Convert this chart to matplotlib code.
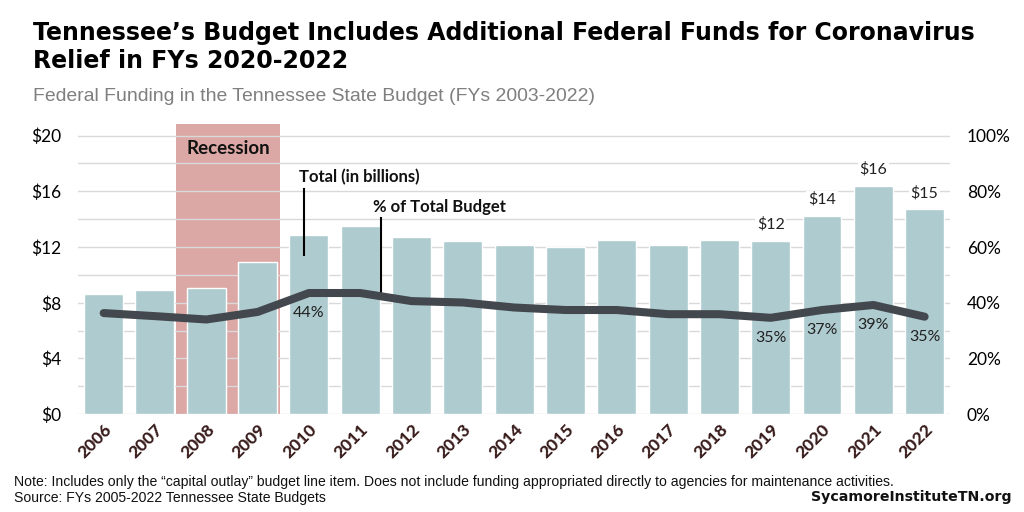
import matplotlib
matplotlib.use("Agg")
import matplotlib.pyplot as plt
from matplotlib.ticker import FixedLocator

# ---- data ----
years = ["2006", "2007", "2008", "2009", "2010", "2011", "2012", "2013", "2014",
         "2015", "2016", "2017", "2018", "2019", "2020", "2021", "2022"]
federal_billions = [8.64, 8.93, 9.07, 10.94, 12.87, 13.52, 12.73, 12.44, 12.15,
                    12.0, 12.5, 12.16, 12.5, 12.45, 14.2, 16.4, 14.7]
pct_of_budget = [36.3, 35.2, 34.0, 36.7, 43.5, 43.5, 40.6, 40.1, 38.3,
                 37.4, 37.4, 35.9, 35.9, 34.6, 37.4, 39.2, 35.0]
dollar_label_years = ["2019", "2020", "2021", "2022"]
pct_label_years = ["2010", "2019", "2020", "2021", "2022"]
left_ticks = [0, 4, 8, 12, 16, 20]
left_tick_labels = ["$0", "$4", "$8", "$12", "$16", "$20"]
right_ticks = [0, 20, 40, 60, 80, 100]
right_tick_labels = ["0%", "20%", "40%", "60%", "80%", "100%"]
recession_years = ["2008", "2009"]

BAR = "#aecbcf"
LINE = "#42484d"
REC = "#dba8a5"
GRID = "#d9d9d9"
TICK = "#3a1d1d"

fig = plt.figure(figsize=(10.24, 5.12), dpi=100)
ax = fig.add_axes([0.0762, 0.191, 0.8518, 0.567])
x = list(range(len(years)))
ymax = 20.84

# recession shading
i0 = years.index(recession_years[0])
i1 = years.index(recession_years[-1])
ax.axvspan(i0 - 0.585, i1 + 0.44, color=REC, zorder=0, lw=0)

# grid every $2
for g in range(0, 21, 2):
    ax.axhline(g, color=GRID, lw=1, zorder=0.5)

ax.bar(x, federal_billions, width=0.76, color=BAR, edgecolor="white",
       linewidth=1, zorder=2)

ax.set_xlim(-0.5, len(years) - 0.5)
ax.set_ylim(0, ymax)
ax.yaxis.set_major_locator(FixedLocator(left_ticks))
ax.set_yticklabels(left_tick_labels, fontsize=12.5, family="Lato")
ax.set_xticks(x)
ax.set_xticklabels(years, rotation=45, ha="right", rotation_mode="anchor",
                   fontsize=12.5, fontweight=900, color=TICK, family="Lato")
ax.tick_params(axis="both", length=0)
ax.tick_params(axis="x", pad=5)
ax.tick_params(axis="y", pad=12)
for s in ax.spines.values():
    s.set_visible(False)

ax2 = ax.twinx()
ax2.set_ylim(0, ymax * 5)
ax2.plot(x, pct_of_budget, color=LINE, lw=5.8, solid_capstyle="round",
         solid_joinstyle="round", zorder=3)
ax2.yaxis.set_major_locator(FixedLocator(right_ticks))
ax2.set_yticklabels(right_tick_labels, fontsize=12.5, family="Lato")
ax2.tick_params(axis="y", length=0, pad=12)
for s in ax2.spines.values():
    s.set_visible(False)

# data labels
for yr in dollar_label_years:
    i = years.index(yr)
    ax.annotate(f"${federal_billions[i]:.0f}", (i, federal_billions[i]),
                xytext=(0, 12), textcoords="offset points", ha="center",
                va="center", fontsize=11.5, family="Lato", color="#222222",
                zorder=5, bbox=dict(boxstyle="square,pad=0.1", fc="white", ec="none"))
for yr in pct_label_years:
    i = years.index(yr)
    ax2.annotate(f"{pct_of_budget[i]:.0f}%", (i, pct_of_budget[i]),
                 xytext=(0, -14.5), textcoords="offset points", ha="center",
                 va="center", fontsize=11.5, family="Lato", color="#222222", zorder=5)

# annotations
ax.text((i0 + i1) / 2 - 0.07, 19.1, "Recession", ha="center", va="center",
        fontsize=13.5, fontweight="bold", family="Lato", color="#111111")
ax.text(3.80, 17.0, "Total (in billions)", ha="left", va="center",
        fontsize=12, fontweight="bold", family="Lato", color="#111111")
ax.plot([3.91, 3.91], [16.17, 11.44], color="black", lw=1.5, zorder=4)
ax.text(5.24, 14.9, "% of Total Budget", ha="left", va="center",
        fontsize=12, fontweight="bold", family="Lato", color="#111111")
ax.plot([5.41, 5.41], [14.09, 8.35], color="black", lw=1.5, zorder=4)

# titles and notes
texts_to_fit = []
t1 = fig.text(0.032, 0.935, "Tennessee\u2019s Budget Includes Additional Federal Funds for Coronavirus",
              fontsize=18, fontweight="bold", family=["DejaVu Sans"], va="center", color="black")
texts_to_fit.append((t1, 942))
t2 = fig.text(0.032, 0.880, "Relief in FYs 2020-2022",
              fontsize=18, fontweight="bold", family=["DejaVu Sans"], va="center", color="black")
t3 = fig.text(0.032, 0.812, "Federal Funding in the Tennessee State Budget (FYs 2003-2022)",
              fontsize=13, family=["Liberation Sans"], va="center", color="#7f7f7f")
texts_to_fit.append((t3, 559))
n1 = fig.text(0.014, 0.058, "Note: Includes only the \u201ccapital outlay\u201d budget line item. Does not include funding appropriated directly to agencies for maintenance activities.",
              fontsize=9.5, family=["Liberation Sans Narrow", "Liberation Sans"], va="center", color="#111111")
texts_to_fit.append((n1, 878))
n2 = fig.text(0.014, 0.027, "Source: FYs 2005-2022 Tennessee State Budgets",
              fontsize=9.5, family=["Liberation Sans Narrow", "Liberation Sans"], va="center", color="#111111")
logo = fig.text(0.988, 0.030, "SycamoreInstituteTN.org", fontsize=12, fontweight="bold",
                family=["DejaVu Sans"], ha="right", va="center", color="#111111")
texts_to_fit.append((logo, 201))

renderer = fig.canvas.get_renderer()
for t, target in texts_to_fit:
    w = t.get_window_extent(renderer).width
    t.set_fontsize(t.get_fontsize() * target / w)
t2.set_fontsize(t1.get_fontsize())
n2.set_fontsize(n1.get_fontsize())

fig.savefig("out.png", dpi=100)
